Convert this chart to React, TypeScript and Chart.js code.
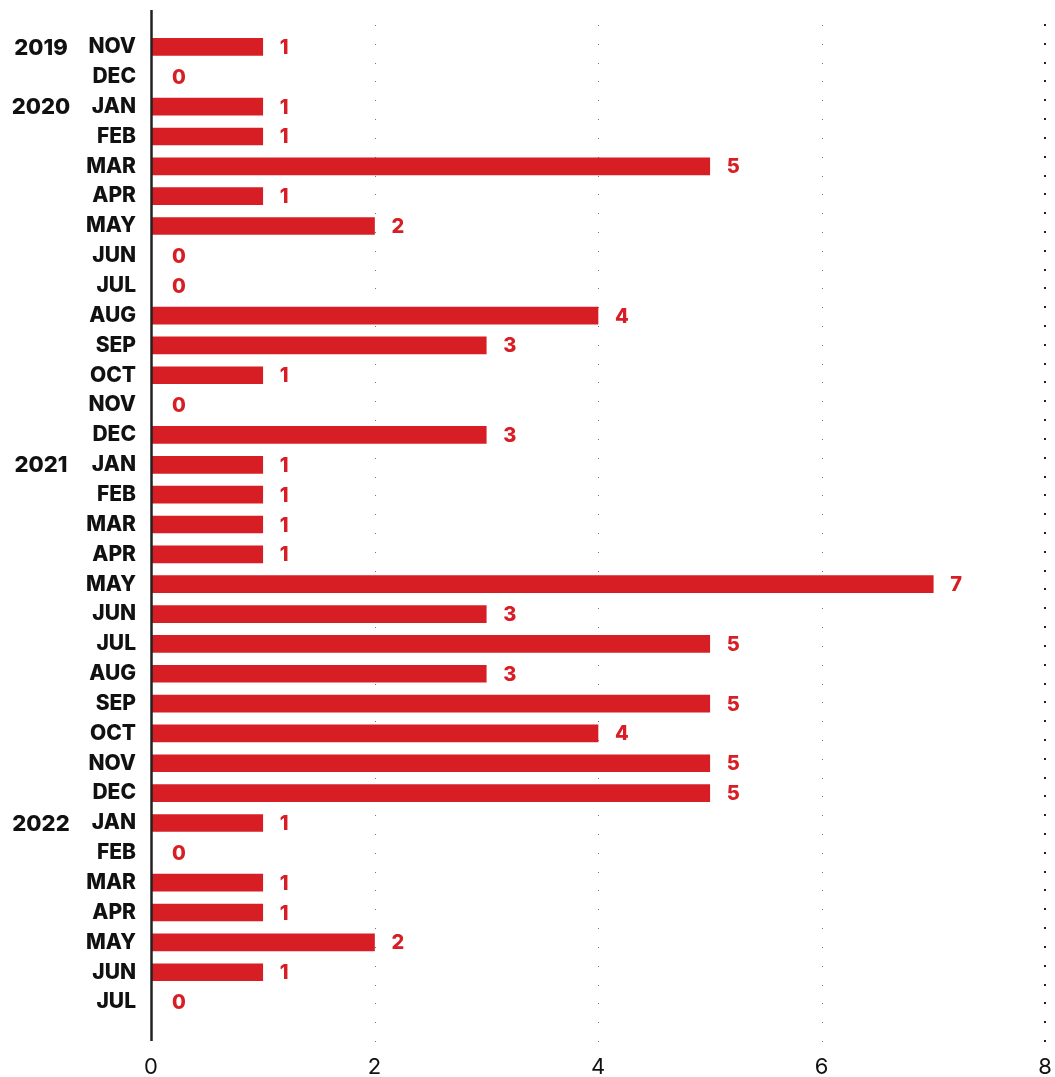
import React, { useEffect, useRef } from "react";
import { Chart, registerables } from "chart.js";

Chart.register(...registerables);

const months = [
  "NOV", "DEC",
  "JAN", "FEB", "MAR", "APR", "MAY", "JUN", "JUL", "AUG", "SEP", "OCT", "NOV", "DEC",
  "JAN", "FEB", "MAR", "APR", "MAY", "JUN", "JUL", "AUG", "SEP", "OCT", "NOV", "DEC",
  "JAN", "FEB", "MAR", "APR", "MAY", "JUN", "JUL",
];
const yearLabels = [
  "2019", "",
  "2020", "", "", "", "", "", "", "", "", "", "", "",
  "2021", "", "", "", "", "", "", "", "", "", "", "",
  "2022", "", "", "", "", "", "",
];
const values = [
  1, 0,
  1, 1, 5, 1, 2, 0, 0, 4, 3, 1, 0, 3,
  1, 1, 1, 1, 7, 3, 5, 3, 5, 4, 5, 5,
  1, 0, 1, 1, 2, 1, 0,
];
const xTicks = [0, 2, 4, 6, 8];
const gridValues = [2, 4, 6, 8];

const RED = "#d71e25";
const INK = "#111111";
const FONT = "Inter, 'Liberation Sans', sans-serif";
const W = 1055;
const H = 1077;

const decorPlugin = {
  id: "decor",
  beforeDatasetsDraw(chart: any) {
    const { ctx, chartArea } = chart;
    const xs = chart.scales.x;
    ctx.save();
    const top = chartArea.top - 7;
    const bottom = chartArea.bottom + 24;
    const step = (bottom - top) / 54;
    for (const v of gridValues) {
      const px = Math.round(xs.getPixelForValue(v));
      const last = v === gridValues[gridValues.length - 1];
      ctx.fillStyle = last ? "#222222" : "#777777";
      for (let i = 0; i <= 54; i++) {
        const y = Math.round(top + i * step);
        if (last) ctx.fillRect(px - 1, y - 1, 2, 2);
        else ctx.fillRect(px, y, 1, 1);
      }
    }
    ctx.restore();
  },
  afterDatasetsDraw(chart: any) {
    const { ctx, chartArea } = chart;
    const xs = chart.scales.x;
    const ys = chart.scales.y;
    ctx.save();
    const x0 = xs.getPixelForValue(0);
    ctx.strokeStyle = "#222222";
    ctx.lineWidth = 2.5;
    ctx.beginPath();
    ctx.moveTo(x0 + 0.5, chartArea.top - 22);
    ctx.lineTo(x0 + 0.5, chartArea.bottom + 24);
    ctx.stroke();
    ctx.fillStyle = RED;
    ctx.font = `800 20px ${FONT}`;
    ctx.textAlign = "left";
    ctx.textBaseline = "middle";
    values.forEach((v, i) => {
      const x = xs.getPixelForValue(v) + (v === 0 ? 21 : 17);
      const y = ys.getPixelForValue(i);
      ctx.fillText(String(v), x, y + 1);
    });
    ctx.fillStyle = INK;
    ctx.font = `800 22px ${FONT}`;
    ctx.textAlign = "center";
    yearLabels.forEach((t, i) => {
      if (!t) return;
      ctx.fillText(t, 41, ys.getPixelForValue(i) + 1);
    });
    ctx.restore();
  },
};

export default function App() {
  const ref = useRef<HTMLCanvasElement>(null);
  useEffect(() => {
    document.body.style.margin = "0";
    document.body.style.overflow = "hidden";
    const chart = new Chart(ref.current!, {
      type: "bar",
      data: {
        labels: months,
        datasets: [
          {
            data: values,
            backgroundColor: RED,
            borderWidth: 0,
            barThickness: 17,
          },
        ],
      },
      plugins: [decorPlugin],
      options: {
        indexAxis: "y",
        animation: false,
        responsive: false,
        devicePixelRatio: 1,
        layout: { padding: { top: 32, right: 10, left: 0, bottom: 0 } },
        plugins: { legend: { display: false }, tooltip: { enabled: false } },
        scales: {
          x: {
            min: 0,
            max: 8,
            afterBuildTicks: (scale: any) => {
              scale.ticks = xTicks.map((v) => ({ value: v }));
            },
            afterFit: (scale: any) => {
              scale.height = 60;
              scale.paddingLeft = 0;
              scale.paddingRight = 0;
            },
            grid: { display: false, drawTicks: false },
            border: { display: false },
            ticks: {
              padding: 37,
              color: INK,
              font: { family: FONT, size: 22, weight: "normal" },
            },
          },
          y: {
            afterFit: (scale: any) => {
              scale.width = 151;
              scale.paddingTop = 0;
              scale.paddingBottom = 0;
            },
            grid: { display: false, drawTicks: false },
            border: { display: false },
            ticks: {
              padding: 15,
              color: INK,
              font: { family: FONT, size: 21, weight: "800" },
            },
          },
        },
      },
    } as any);
    return () => chart.destroy();
  }, []);
  return (
    <div style={{ position: "absolute", left: 0, top: 0, width: W, height: H }}>
      <canvas ref={ref} width={W} height={H} style={{ display: "block" }} />
    </div>
  );
}
